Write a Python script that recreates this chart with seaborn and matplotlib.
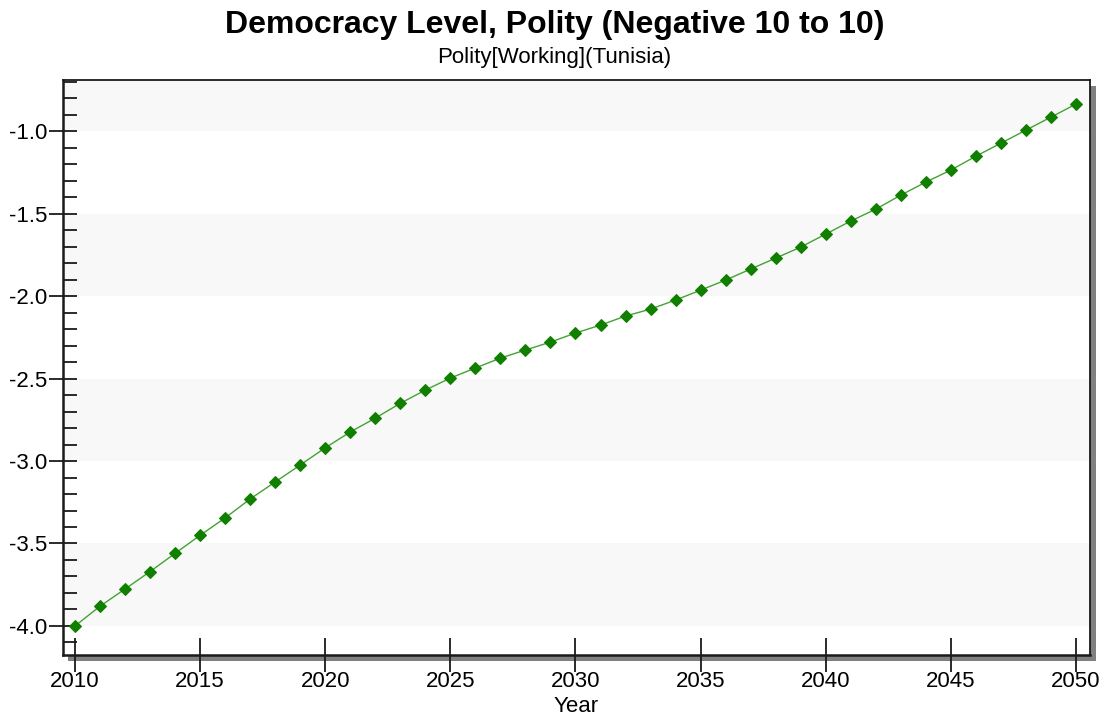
import numpy as np
import pandas as pd
import matplotlib.pyplot as plt
import matplotlib.patches as mpatches
from matplotlib.ticker import MultipleLocator
import seaborn as sns

# Values
years = list(range(2010, 2051))
polity = [-4.00, -3.88, -3.776, -3.67, -3.56, -3.45, -3.345, -3.23, -3.127, -3.024,
          -2.92, -2.824, -2.74, -2.65, -2.57, -2.497, -2.436, -2.376, -2.327, -2.279,
          -2.224, -2.176, -2.121, -2.079, -2.024, -1.964, -1.903, -1.836, -1.77, -1.703,
          -1.624, -1.545, -1.473, -1.388, -1.309, -1.236, -1.152, -1.073, -0.994, -0.915,
          -0.836]
x_ticks = [2010, 2015, 2020, 2025, 2030, 2035, 2040, 2045, 2050]
y_ticks = [-4.0, -3.5, -3.0, -2.5, -2.0, -1.5, -1.0]

df = pd.DataFrame({'Year': years, 'Polity': polity})

sns.set_style('white')
plt.rcParams['font.family'] = ['Liberation Sans', 'DejaVu Sans']
plt.rcParams['text.color'] = 'black'
plt.rcParams['axes.labelcolor'] = 'black'
plt.rcParams['xtick.color'] = 'black'
plt.rcParams['ytick.color'] = 'black'

fig = plt.figure(figsize=(11.09, 7.15), dpi=100)
ax = fig.add_axes([63 / 1109, 1 - 655 / 715, (1090 - 63) / 1109, (655 - 80) / 715])

ylo, yhi = -4.176, -0.69
ax.set_xlim(2009.52, 2050.56)
ax.set_ylim(ylo, yhi)

# alternating bands
edges = [ylo, -4.0, -3.5, -3.0, -2.5, -2.0, -1.5, -1.0, yhi]
for i in range(len(edges) - 1):
    if i % 2 == 1:
        ax.axhspan(edges[i], edges[i + 1], color='#f8f8f8', lw=0, zorder=0)

sns.lineplot(data=df, x='Year', y='Polity', ax=ax, color='#42a332', lw=1.0,
             marker='D', markersize=6.5, markerfacecolor='#107f00',
             markeredgecolor='#107f00', zorder=3)

# shadow behind axes
shadow = mpatches.Rectangle((68 / 1109, 1 - 661 / 715), (1096 - 68) / 1109, (661 - 86) / 715,
                            transform=fig.transFigure, facecolor='#808080',
                            edgecolor='none', zorder=-1)
fig.patches.append(shadow)
ax.set_facecolor('white')

for s in ax.spines.values():
    s.set_color('#1a1a1a')
    s.set_linewidth(1.3)
ax.spines['left'].set_linewidth(1.8)
ax.spines['bottom'].set_linewidth(1.8)

ax.set_xticks(x_ticks)
ax.set_yticks(y_ticks)
ax.set_yticklabels([f'{v:.1f}' for v in y_ticks])
ax.yaxis.set_minor_locator(MultipleLocator(0.1))
ax.tick_params(axis='y', which='major', direction='inout', length=20, width=1.3,
               color='#1a1a1a', labelsize=16, pad=1, left=True)
ax.tick_params(axis='y', which='minor', direction='in', length=10, width=1.3,
               color='#1a1a1a', left=True)
ax.tick_params(axis='x', which='major', direction='inout', length=25, width=1.3,
               color='#1a1a1a', labelsize=16, pad=-1, bottom=True)

ax.set_xlabel('Year', fontsize=16, labelpad=3)
ax.set_ylabel('')

fig.text(0.5, 1 - 25 / 715, 'Democracy Level, Polity (Negative 10 to 10)',
         ha='center', va='center', fontsize=23, fontweight='bold')
fig.text(0.5, 1 - 58 / 715, 'Polity[Working](Tunisia)', ha='center', va='center',
         fontsize=16)

fig.savefig('out.png', dpi=100)
